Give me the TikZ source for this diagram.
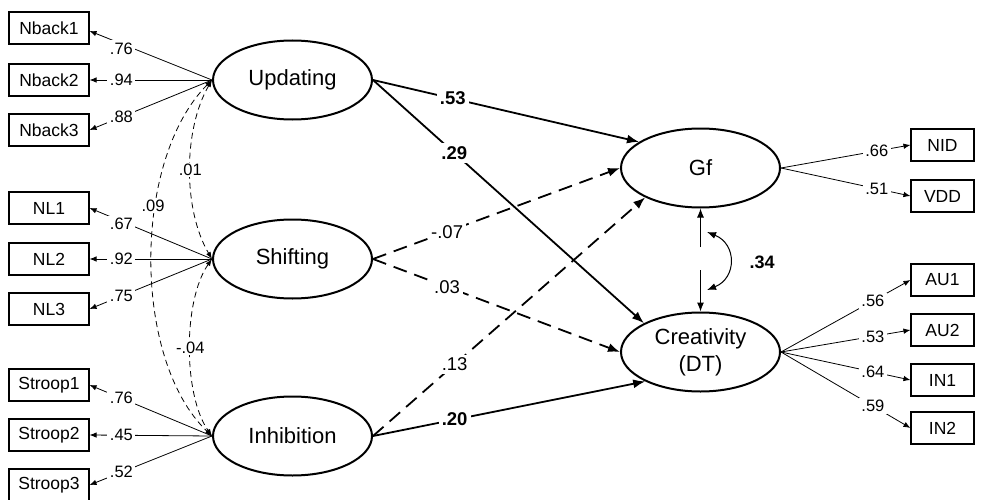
\documentclass[tikz,border=0pt]{standalone}
\usepackage{fontspec}
\setmainfont{Liberation Sans}
\usetikzlibrary{arrows.meta,shapes.geometric}
\begin{document}
\begin{tikzpicture}[x=1pt,y=-1pt,
 obs/.style={draw,line width=1.1pt,minimum width=80pt,minimum height=32pt,inner sep=0pt,font=\fontsize{17.5}{21}\selectfont},
 robs/.style={obs,minimum width=63pt},
 lat/.style={draw,ellipse,line width=2pt,minimum width=159pt,minimum height=79pt,inner sep=0pt,align=center,font=\fontsize{22}{27}\selectfont},
 load/.style={line width=0.8pt,-{Latex[length=7pt,width=5.5pt]}},
 lab/.style={fill=white,inner sep=2.5pt,font=\fontsize{16.5}{19}\selectfont},
 slab/.style={fill=white,inner sep=3pt,font=\fontsize{18.5}{22}\selectfont},
 bslab/.style={fill=white,inner sep=3pt,font=\fontsize{18.5}{22}\selectfont\bfseries},
 spath/.style={line width=1.8pt,-{Latex[length=12pt,width=9pt]}},
 dpath/.style={spath,dash pattern=on 14pt off 8pt},
 dcov/.style={line width=0.8pt,dash pattern=on 6pt off 4pt,{Latex[length=7pt,width=5pt]}-{Latex[length=7pt,width=5pt]}},
 cov/.style={line width=1pt,-{Latex[length=9pt,width=7pt]}},
 dcovlab/.style={fill=white,inner sep=1.5pt,font=\fontsize{16.5}{19}\selectfont},
]
\useasboundingbox (0,0) rectangle (984,500);

% observed indicators, left
\node[obs] (nb1) at (49,28) {Nback1};
\node[obs] (nb2) at (49,80) {Nback2};
\node[obs] (nb3) at (49,130) {Nback3};
\node[obs] (nl1) at (49,208) {NL1};
\node[obs] (nl2) at (49,259) {NL2};
\node[obs] (nl3) at (49,309) {NL3};
\node[obs] (st1) at (49,385) {Stroop1};
\node[obs] (st2) at (49,435) {Stroop2};
\node[obs] (st3) at (49,485) {Stroop3};

% observed indicators, right
\node[robs] (nid) at (942.5,145) {NID};
\node[robs] (vdd) at (942.5,196) {VDD};
\node[robs] (au1) at (942.5,280) {AU1};
\node[robs] (au2) at (942.5,330) {AU2};
\node[robs] (in1) at (942.5,380) {IN1};
\node[robs] (in2) at (942.5,428) {IN2};

% latent variables
\node[lat] (upd) at (292.5,80) {Updating};
\node[lat] (shf) at (292.5,259) {Shifting};
\node[lat] (inh) at (292.5,436) {Inhibition};
\node[lat] (gf) at (700.5,168) {Gf};
\node[lat] (cr) at (700.5,352) {Creativity\\(DT)};

% loadings left
\draw[load] (upd.west) -- node[lab,pos=0.74,yshift=-5pt] {.76} ([yshift=-3pt]nb1.east);
\draw[load] (upd.west) -- node[lab,pos=0.74] {.94} (nb2.east);
\draw[load] (upd.west) -- node[lab,pos=0.74] {.88} (nb3.east);
\draw[load] (shf.west) -- node[lab,pos=0.74,yshift=-3pt] {.67} (nl1.east);
\draw[load] (shf.west) -- node[lab,pos=0.74] {.92} (nl2.east);
\draw[load] (shf.west) -- node[lab,pos=0.74] {.75} (nl3.east);
\draw[load] (inh.west) -- node[lab,pos=0.74] {.76} (st1.east);
\draw[load] (inh.west) -- node[lab,pos=0.74] {.45} (st2.east);
\draw[load] (inh.west) -- node[lab,pos=0.74] {.52} (st3.east);

% loadings right
\draw[load] (gf.east) -- node[lab,pos=0.74] {.66} (nid.west);
\draw[load] (gf.east) -- node[lab,pos=0.74] {.51} (vdd.west);
\draw[load] (cr.east) -- node[lab,pos=0.71] {.56} (au1.west);
\draw[load] (cr.east) -- node[lab,pos=0.71] {.53} (au2.west);
\draw[load] (cr.east) -- node[lab,pos=0.71] {.64} (in1.west);
\draw[load] (cr.east) -- node[lab,pos=0.71] {.59} (in2.west);

% covariances among predictors
\draw[dcov] (upd.west) .. controls (183,130) and (183,210) .. node[dcovlab,pos=0.5] {.01} (shf.west);
\draw[dcov] (upd.west) .. controls (132,160) and (132,360) .. node[dcovlab,pos=0.37,xshift=-3pt] {.09} (inh.west);
\draw[dcov] (shf.west) .. controls (183,300) and (183,395) .. node[dcovlab,pos=0.5] {-.04} (inh.west);

% structural paths
\draw[spath] (upd.east) -- node[bslab,pos=0.3] {.53} (gf.157);
\draw[spath] (upd.east) -- node[bslab,pos=0.3] {.29} (cr.153);
\draw[dpath] (shf.east) -- node[slab,pos=0.3] {-.07} (gf.180);
\draw[dpath] (shf.east) -- node[slab,pos=0.3] {.03} (cr.180);
\draw[dpath] (inh.east) -- node[slab,pos=0.3] {.13} (gf.208);
\draw[spath] (inh.east) -- node[bslab,pos=0.3] {.20} (cr.208);

% Gf -- Creativity
\coordinate (g1) at (700.5,247);
\coordinate (g2) at (700.5,270);
\draw[cov] (g1) -- (gf.south);
\draw[cov] (g2) -- (cr.north);
\coordinate (c1) at (707,232);
\coordinate (c2) at (707,290);
\draw[line width=1pt,{Latex[length=9pt,width=7pt]}-{Latex[length=9pt,width=7pt]}] (c1) .. controls (737,244) and (737,278) .. (c2);
\node[font=\fontsize{18}{22}\selectfont\bfseries] (r34) at (762,262) {.34};
\end{tikzpicture}
\end{document}
